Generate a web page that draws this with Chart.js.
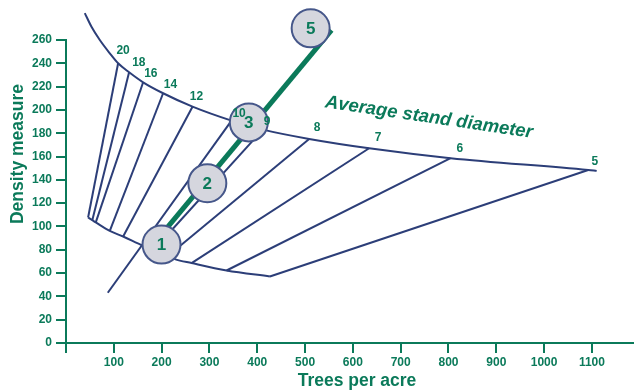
<!DOCTYPE html>
<html><head><meta charset="utf-8">
<script src="https://cdn.jsdelivr.net/npm/chart.js@4.4.1/dist/chart.umd.min.js"></script>
<style>html,body{margin:0;padding:0;background:#fff}#wrap{width:634px;height:391px;position:relative}</style>
</head><body><div id="wrap"><canvas id="c"></canvas></div>
<script>
// ---- data (trees per acre, density measure) ----
const upperX = [39.3, 53.3, 70.7, 91.6, 109, 132, 161.3, 203.1, 264.6, 346.2, 411.7, 508.6, 634, 804.4, 1092.3, 1110];
const upperY = [283.1, 271.4, 260, 248.6, 240, 232.3, 223.7, 214.3, 202.8, 190.8, 183.1, 175.1, 167.1, 158.6, 148.5, 147.7];
const lowerX = [46.2, 55.0, 62.3, 91.6, 119.5, 161.3, 183.7, 213, 227.6, 262.6, 335.8, 426.4];
const lowerY = [107.7, 105.4, 103.5, 96.2, 91.4, 83.4, 80, 74.6, 72.0, 68.6, 62.2, 57.1];
const diameterLabels = ['20','18','16','14','12','10','9','8','7','6','5'];
const diamTopX = [109, 132, 161.3, 203.1, 264.6, 346.2, 411.7, 508.6, 634, 804.4, 1092.3];
const diamTopY = [240, 232.3, 223.7, 214.3, 202.8, 190.8, 183.1, 175.1, 167.1, 158.6, 148.5];
const diamEndX = [46.2, 55.0, 62.3, 91.6, 119.5, 87.4, 183.7, 213, 262.6, 335.8, 426.4];
const diamEndY = [107.7, 105.4, 103.5, 96.2, 91.4, 43.1, 80, 74.6, 68.6, 62.2, 57.1];
const pathX = [202.5, 555.4];
const pathY = [94.5, 268.5];
const stageLabels = ['1','2','3','5'];
const stageX = [199.8, 295.6, 382.4, 511.7];
const stageY = [84.5, 137.1, 189.3, 270];
const xTickStep = 100, yTickStep = 20;
const curveTitle = 'Average stand diameter';
const curveTitlePos = [759, 193.5];
const xTitle = 'Trees per acre', yTitle = 'Density measure';

// ---- styles ----
const GREEN = '#0b7a5a', NAVY = '#2c3e78', FILL = '#d5d6de', RING = '#46578a';
const FONT = '"Liberation Sans", Arial, Helvetica, sans-serif';
const labelNudge = [[5,-12.6],[9.7,-9.6],[7.7,-8.6],[7.4,-8.6],[4,-10],[7.6,-7.4],[4.3,-7.5],[8,-11.7],[9,-11],[9.3,-9],[6.7,-8.3]];

const pts = (xs, ys) => xs.map((v, i) => ({x: v, y: ys[i]}));
const navyLine = (data, extra) => Object.assign({
  data, showLine: true, borderColor: NAVY, borderWidth: 2, pointRadius: 0,
  fill: false, clip: false, order: 3
}, extra || {});

const datasets = [];
datasets.push(navyLine(pts(upperX, upperY), {cubicInterpolationMode: 'monotone'}));
datasets.push(navyLine(pts(lowerX, lowerY), {cubicInterpolationMode: 'monotone'}));
diameterLabels.forEach((d, i) => {
  datasets.push(navyLine([{x: diamTopX[i], y: diamTopY[i]}, {x: diamEndX[i], y: diamEndY[i]}]));
});
datasets.push({
  data: pts(pathX, pathY), showLine: true, borderColor: GREEN, borderWidth: 5,
  pointRadius: [0, 4.5], pointBackgroundColor: GREEN, pointBorderWidth: 0,
  clip: false, order: 2
});
datasets.push({
  data: pts(stageX, stageY), showLine: false, pointRadius: 19,
  pointBackgroundColor: FILL, pointBorderColor: RING, pointBorderWidth: 2,
  clip: false, order: 1
});

const overlay = {
  id: 'overlay',
  afterDatasetsDraw(chart) {
    const {ctx, scales: {x, y}} = chart;
    ctx.save();
    ctx.fillStyle = GREEN;
    ctx.textAlign = 'center';
    ctx.textBaseline = 'middle';
    ctx.font = 'bold 12px ' + FONT;
    diameterLabels.forEach((t, i) => {
      ctx.fillText(t, x.getPixelForValue(diamTopX[i]) + labelNudge[i][0],
                      y.getPixelForValue(diamTopY[i]) + labelNudge[i][1]);
    });
    ctx.font = 'bold 17px ' + FONT;
    stageLabels.forEach((t, i) => {
      ctx.fillText(t, x.getPixelForValue(stageX[i]), y.getPixelForValue(stageY[i]) + 1);
    });
    ctx.save();
    ctx.translate(x.getPixelForValue(curveTitlePos[0]), y.getPixelForValue(curveTitlePos[1]));
    ctx.rotate(8.4 * Math.PI / 180);
    ctx.font = 'italic bold 18.5px ' + FONT;
    ctx.fillText(curveTitle, 0, 0);
    ctx.restore();
    ctx.font = 'bold 17.5px ' + FONT;
    ctx.fillText(xTitle, 357, 381);
    ctx.save();
    ctx.translate(18.5, 154);
    ctx.rotate(-Math.PI / 2);
    ctx.fillText(yTitle, 0, 0);
    ctx.restore();
    ctx.restore();
  }
};

new Chart(document.getElementById('c'), {
  type: 'scatter',
  data: {datasets},
  options: {
    responsive: true, maintainAspectRatio: false, animation: false, events: [],
    layout: {autoPadding: false, padding: {top: 40, right: 0, left: 0, bottom: 0}},
    plugins: {legend: {display: false}, tooltip: {enabled: false}},
    scales: {
      x: {
        type: 'linear', min: 0, max: 1188,
        afterFit(s) { s.height = 48; },
        border: {display: true, color: GREEN, width: 2},
        grid: {drawOnChartArea: false, drawTicks: true, tickLength: 10, color: GREEN, lineWidth: 2},
        ticks: {stepSize: xTickStep, includeBounds: false, color: GREEN, padding: 2,
                font: {family: FONT, size: 12, weight: 'bold'},
                callback: v => v === 0 ? '' : String(v)}
      },
      y: {
        type: 'linear', min: 0, max: 260,
        afterFit(s) { s.width = 66; },
        border: {display: true, color: GREEN, width: 2},
        grid: {drawOnChartArea: false, drawTicks: true, tickLength: 10, color: GREEN, lineWidth: 2},
        ticks: {stepSize: yTickStep, color: GREEN, padding: 4,
                font: {family: FONT, size: 12, weight: 'bold'},
                callback: v => String(v)}
      }
    }
  },
  plugins: [overlay]
});
</script></body></html>
